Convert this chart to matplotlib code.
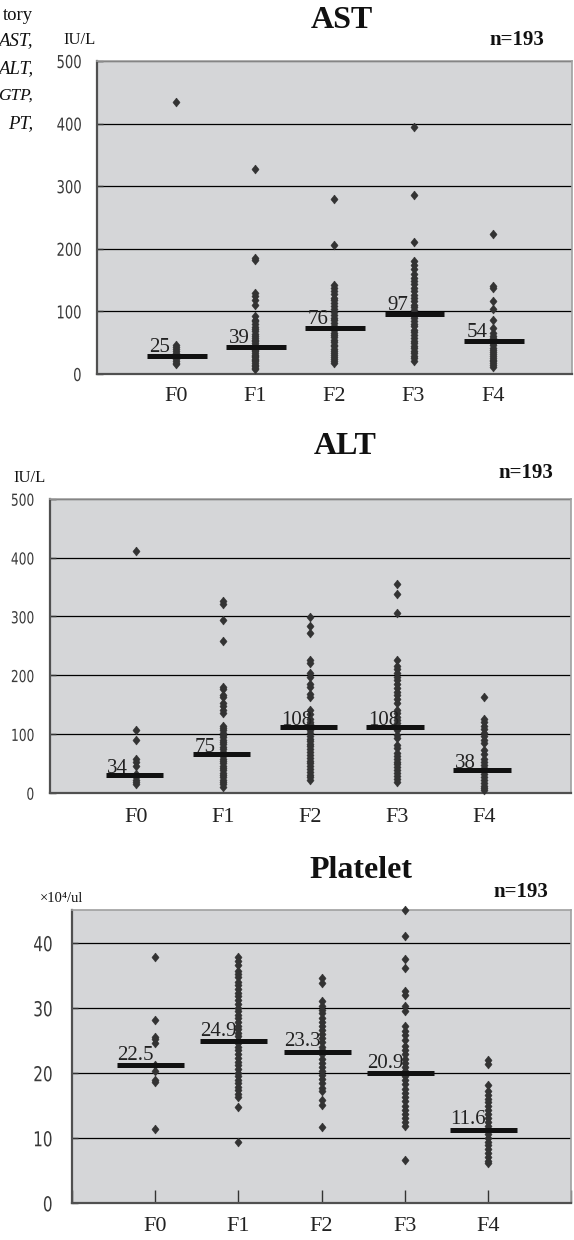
import numpy as np
import matplotlib.pyplot as plt
from matplotlib.patheffects import AbstractPathEffect
from matplotlib.transforms import Affine2D

W, H = 574, 1240
SERIF = ['Liberation Serif', 'DejaVu Serif']

groups = ['F0', 'F1', 'F2', 'F3', 'F4']

# AST (IU/L)
ast_f0 = [435, 47, 43, 40, 36, 33, 30, 27, 24, 21, 18, 16]
ast_f1 = [328, 186, 182, 129, 124, 119, 110, 92, 87, 84, 80, 75, 72, 68, 64, 61, 58, 55,
          52, 49, 46, 44, 41, 39, 36, 34, 31, 29, 27, 24, 22, 20, 17, 15, 13, 10, 8]
ast_f2 = [279, 206, 142, 138, 133, 128, 122, 118, 113, 108, 104, 99, 95, 90, 86, 82, 77,
          74, 70, 66, 62, 59, 55, 51, 47, 44, 40, 37, 34, 30, 27, 24, 21, 18]
ast_f3 = [394, 286, 211, 181, 174, 167, 160, 154, 148, 143, 137, 132, 126, 121, 116, 111,
          107, 102, 98, 93, 89, 85, 80, 76, 71, 67, 62, 58, 53, 49, 45, 41, 37, 33, 29, 25, 21]
ast_f4 = [224, 141, 138, 117, 104, 87, 74, 66, 61, 57, 53, 49, 46, 42, 39, 35, 32, 29, 26,
          23, 20, 17, 14, 11]
ast_mean = [28.2, 42.6, 72.9, 96.3, 52.7]
ast_text = ['25', '39', '76', '97', '54']

# ALT (IU/L)
alt_f0 = [411, 106, 89, 57, 53, 45, 31, 26, 22, 18, 15]
alt_f1 = [326, 321, 293, 258, 180, 176, 166, 162, 153, 148, 140, 135, 114, 110, 106, 102,
          98, 94, 90, 86, 82, 78, 74, 70, 66, 62, 58, 54, 50, 46, 42, 38, 34, 30, 26, 22,
          18, 14, 10]
alt_f2 = [298, 284, 271, 226, 220, 203, 196, 185, 179, 168, 163, 141, 133, 125, 120, 116,
          111, 106, 101, 97, 92, 88, 83, 79, 74, 69, 64, 59, 54, 50, 45, 40, 35, 30, 26, 22]
alt_f3 = [355, 338, 305, 225, 216, 210, 203, 197, 191, 185, 178, 172, 166, 159, 153, 141,
          135, 129, 124, 118, 113, 107, 98, 93, 81, 76, 68, 63, 58, 53, 48, 43, 38, 33, 28,
          23, 18]
alt_f4 = [163, 125, 120, 114, 108, 102, 96, 90, 84, 73, 66, 57, 52, 47, 42, 37, 32, 27,
          22, 17, 12, 8, 5]
alt_mean = [30.0, 65.8, 111.0, 111.0, 38.5]
alt_text = ['34', '75', '108', '108', '38']

# Platelet (x10^4/ul)
plt_f0 = [37.8, 28.2, 25.6, 25.2, 24.6, 21.3, 20.4, 19.0, 18.6, 11.4]
plt_f1 = [37.8, 37.2, 36.6, 35.7, 35.2, 34.8, 34.1, 33.5, 32.9, 32.4, 31.8, 31.3, 30.7,
          30.1, 29.6, 29.0, 28.5, 27.9, 27.3, 26.8, 26.2, 25.7, 25.1, 24.6, 24.0, 23.5,
          22.9, 22.4, 21.8, 21.2, 20.7, 20.1, 19.6, 19.0, 18.5, 17.9, 17.4, 16.8, 16.3,
          14.8, 9.5]
plt_f2 = [34.6, 33.9, 31.1, 30.4, 29.8, 29.2, 28.5, 27.9, 27.3, 26.6, 26.0, 25.4, 24.8,
          24.1, 23.5, 22.9, 22.2, 21.6, 21.0, 20.4, 19.7, 19.1, 18.5, 17.8, 17.2, 15.9,
          15.1, 11.8]
plt_f3 = [45.1, 41.1, 37.6, 36.2, 32.6, 32.1, 30.4, 29.6, 27.2, 26.5, 25.9, 25.1, 24.2,
          23.5, 22.9, 22.2, 21.6, 20.9, 20.3, 19.6, 19.0, 18.3, 17.6, 17.0, 16.3, 15.7,
          15.0, 14.4, 13.7, 13.1, 12.5, 11.9, 6.7]
plt_f4 = [22.1, 21.4, 18.2, 17.3, 16.7, 16.1, 15.5, 14.9, 14.3, 13.7, 13.1, 12.5, 11.9,
          11.3, 10.7, 10.1, 9.5, 8.9, 8.3, 7.7, 7.1, 6.5, 6.2]
plt_mean = [21.2, 24.9, 23.3, 20.0, 11.3]
plt_text = ['22.5', '24.9', '23.3', '20.9', '11.6']

DIAMOND = [(0, 1), (0.8, 0), (0, -1), (-0.8, 0), (0, 1)]


class Narrow(AbstractPathEffect):
    # squeeze glyphs sideways, keeping the right edge in place
    def __init__(self, sx):
        super().__init__()
        self.sx = sx

    def draw_path(self, renderer, gc, tpath, affine, rgbFace=None):
        x1 = tpath.get_extents().x1
        aff = Affine2D().translate(-x1, 0).scale(self.sx, 1).translate(x1, 0) + affine
        renderer.draw_path(gc, tpath, aff, rgbFace)


fig = plt.figure(figsize=(W / 100, H / 100), dpi=100)


def rect(l, r, t, b):
    return [l / W, 1 - b / H, (r - l) / W, (b - t) / H]


def panel(box, data, means, texts, ylim, yticks, ytick_fs, ypad, xpad, span, off,
          xticks_in=False):
    ax = fig.add_axes(box)
    ax.set_facecolor('#d5d6d8')
    for i, vals in enumerate(data):
        ax.plot(np.full(len(vals), i + 1), vals, ls='none', marker=DIAMOND, ms=6.4,
                color='#333333', mec='#333333', mew=0.4, zorder=3, clip_on=False)
    for i, (m, t) in enumerate(zip(means, texts)):
        x0, x1 = i + 1 + span[0], i + 1 + span[1]
        ax.plot([x0, x1], [m, m], color='#111111', lw=3.6, solid_capstyle='butt', zorder=4)
        ax.annotate(t, (x0, m), xytext=off, textcoords='offset points', ha='left',
                    va='baseline', fontsize=15, family=SERIF, color='#222222', zorder=5)
    ax.set_xlim(0, 6)
    ax.set_ylim(*ylim)
    ax.set_yticks(yticks)
    ax.yaxis.grid(True, color='black', lw=0.9)
    ax.set_axisbelow(True)
    if xticks_in:
        ax.set_xticks(range(7), [''] + groups + [''])
        ax.tick_params(axis='x', direction='in', length=9.5, width=1, color='#333333',
                       pad=xpad)
    else:
        ax.set_xticks(range(1, 6), groups)
        ax.tick_params(axis='x', length=0, pad=xpad)
    ax.tick_params(axis='x', labelsize=16, labelcolor='#222222', labelfontfamily=SERIF)
    ax.tick_params(axis='y', direction='in', length=4, width=1, color='#333333',
                   labelsize=ytick_fs, labelcolor='#3a3a3a', pad=ypad,
                   labelfontfamily='DejaVu Sans')
    for lbl in ax.get_yticklabels():
        lbl.set_path_effects([Narrow(0.74)])
    for s in ('left', 'bottom'):
        ax.spines[s].set_color('#505050')
        ax.spines[s].set_linewidth(1.6)
    for s in ('top', 'right'):
        ax.spines[s].set_color('#a0a0a0')
        ax.spines[s].set_linewidth(1.2)
    return ax


panel(rect(96.5, 572, 61, 374), [ast_f0, ast_f1, ast_f2, ast_f3, ast_f4], ast_mean,
      ast_text, (0, 500), range(0, 501, 100), 12.8, 10.6, 9.4, (-0.365, 0.39), (2, 3))
panel(rect(49.5, 570.5, 498.7, 792.7), [alt_f0, alt_f1, alt_f2, alt_f3, alt_f4], alt_mean,
      alt_text, (0, 500), range(0, 501, 100), 11.9, 10.8, 11, (-0.35, 0.31), (1, 1.5))
panel(rect(72, 571, 910, 1203.3), [plt_f0, plt_f1, plt_f2, plt_f3, plt_f4], plt_mean,
      plt_text, (0, 45.1), range(0, 41, 10), 14.8, 13.7, 9.7, (-0.455, 0.35), (0, 4),
      xticks_in=True)


def ftext(x, y, s, **kw):
    fig.text(x / W, 1 - y / H, s, family=SERIF, color='#111111', **kw)


ftext(342, 21, 'AST', ha='center', va='center', fontsize=23, weight='bold')
ftext(544, 40, 'n=193', ha='right', va='center', fontsize=15, weight='bold')
ftext(63, 40, 'IU/L', ha='left', va='center', fontsize=12)

ftext(345, 447, 'ALT', ha='center', va='center', fontsize=23, weight='bold')
ftext(553, 473, 'n=193', ha='right', va='center', fontsize=15, weight='bold')
ftext(13, 478, 'IU/L', ha='left', va='center', fontsize=12)

ftext(361, 871, 'Platelet', ha='center', va='center', fontsize=23, weight='bold')
ftext(548, 892, 'n=193', ha='right', va='center', fontsize=15, weight='bold')
ftext(40, 898, '×10⁴/ul', ha='left', va='center', fontsize=10.5)

# fragments of the neighbouring text column at the left page edge
ftext(33, 20, 'tory', ha='right', va='baseline', fontsize=13.5)
ftext(33, 45, 'AST,', ha='right', va='baseline', fontsize=13.5, style='italic')
ftext(33, 73, 'ALT,', ha='right', va='baseline', fontsize=13.5, style='italic')
ftext(33, 100, 'GTP,', ha='right', va='baseline', fontsize=12.5, style='italic')
ftext(33, 128, 'PT,', ha='right', va='baseline', fontsize=13.5, style='italic')

fig.savefig('out.png', dpi=100)
